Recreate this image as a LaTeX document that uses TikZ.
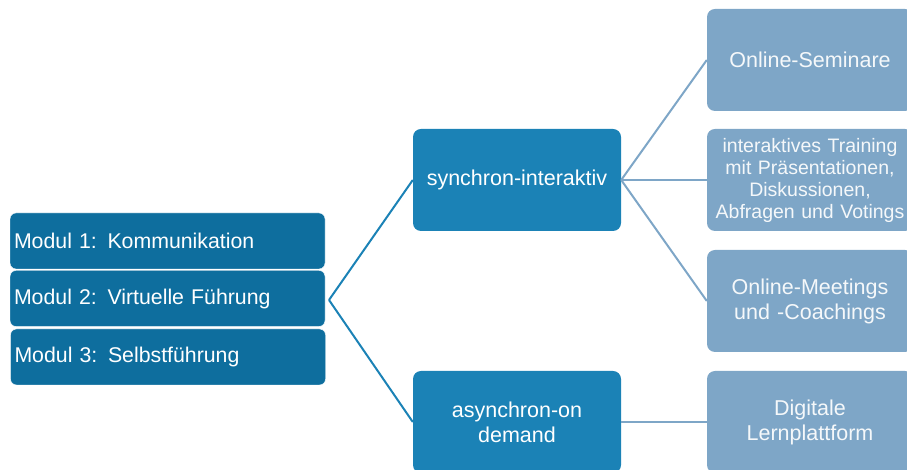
\documentclass[tikz,border=0pt]{standalone}
\usepackage{fontspec}
\setmainfont{Liberation Sans}
\definecolor{moddark}{RGB}{14,110,158}
\definecolor{synblue}{RGB}{27,130,182}
\definecolor{sublight}{RGB}{126,166,199}
\begin{document}
\begin{tikzpicture}[x=1pt,y=1pt,
	modbox/.style={draw=white,thin,fill=moddark,rounded corners=6pt,text=white,minimum width=315pt,minimum height=56pt,text width=307pt,inner xsep=4pt,align=left,font=\fontsize{21.3}{25}\selectfont},
	midbox/.style={fill=synblue,rounded corners=8pt,text=white,minimum width=208pt,minimum height=102pt,text width=200pt,align=center,font=\fontsize{21.5}{25}\selectfont},
	subbox/.style={fill=sublight,rounded corners=8pt,text=white!92!sublight,minimum width=206pt,minimum height=102pt,text width=206pt,inner xsep=0pt,align=center,font=\fontsize{21.5}{25}\selectfont},
	lnkdark/.style={draw=synblue,line width=2pt},
	lnklight/.style={draw=sublight,line width=2pt}]
	\clip (0,0) rectangle (907,470);
	\node[modbox] (M1) at (167.5,229){Modul 1: Kommunikation};
	\node[modbox] (M2) at (167.5,171.5){Modul 2: Virtuelle Führung};
	\node[modbox] (M3) at (168,113){Modul 3: Selbstführung};
	\node[midbox] (S) at (517,290){synchron-interaktiv};
	\node[midbox] (A) at (517,48){asynchron-on\\demand};
	\node[subbox] (R1) at (810,410){Online-Seminare};
	\node[subbox,font=\fontsize{19.5}{22}\selectfont] (R2) at (810,290){interaktives Training\\mit Präsentationen,\\Diskussionen,\\Abfragen und Votings};
	\node[subbox] (R3) at (810,169){Online-Meetings\\und -Coachings};
	\node[subbox] (R4) at (810,48){Digitale\\Lernplattform};
	\coordinate (J) at (329,170);
	\draw[lnkdark] (J) -- (S.west);
	\draw[lnkdark] (J) -- (A.west);
	\draw[lnklight] (S.east) -- (R1.west);
	\draw[lnklight] (S.east) -- (R2.west);
	\draw[lnklight] (S.east) -- (R3.west);
	\draw[lnklight] (A.east) -- (R4.west);
\end{tikzpicture}
\end{document}
